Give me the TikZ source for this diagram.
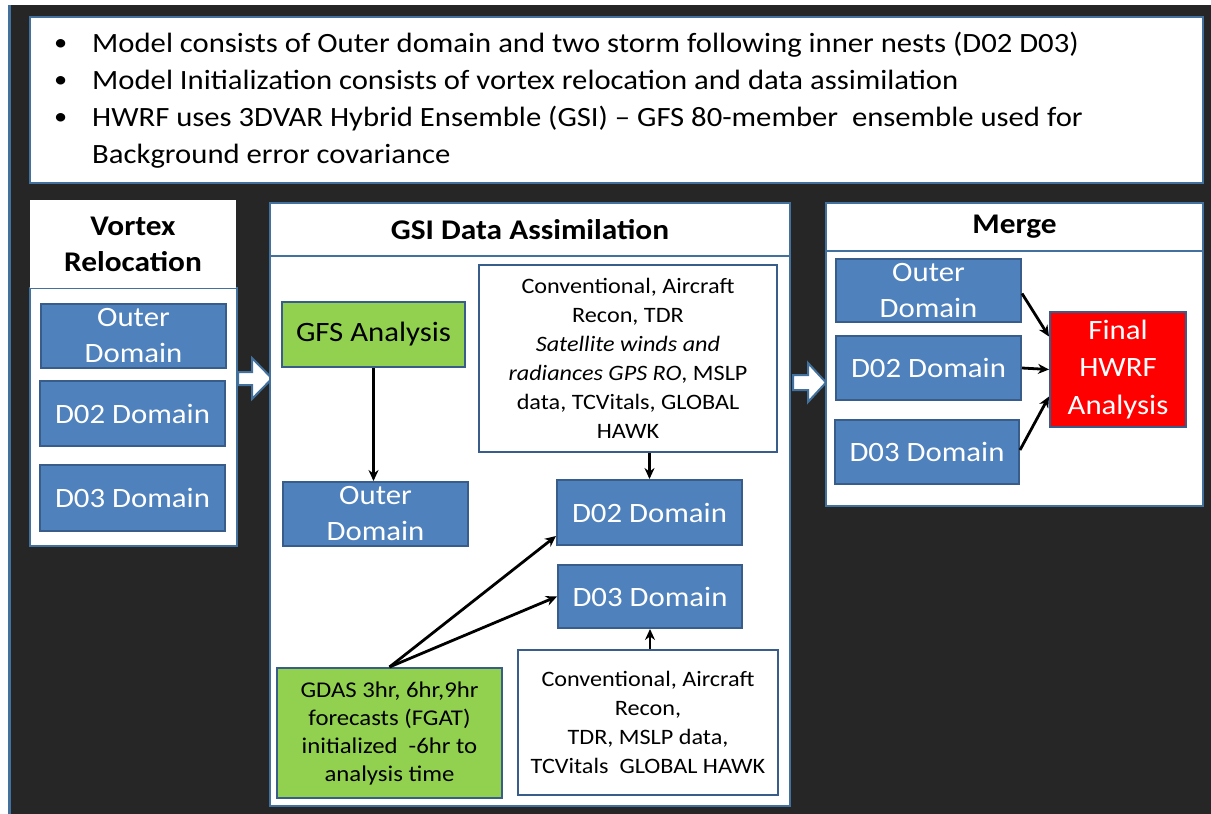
\documentclass[tikz,border=0pt]{standalone}
\usepackage{fontspec}
\setmainfont{Carlito}[FakeStretch=1.1]
\usetikzlibrary{arrows.meta}

\definecolor{bgdark}{HTML}{262626}
\definecolor{edgeblue}{HTML}{41719C}
\definecolor{boxblue}{HTML}{4F81BD}
\definecolor{boxedge}{HTML}{385D8A}
\definecolor{gfsgreen}{HTML}{92D050}

\newcommand{\hwbullet}{\raisebox{1.5pt}{\fontsize{24}{37}\selectfont\textbullet}}

\tikzset{
  panel/.style={draw=edgeblue,line width=2.5pt,fill=white,inner sep=0pt},
  paneltitle/.style={panel,align=center,font=\bfseries\fontsize{28.5}{36}\selectfont},
  dombox/.style={draw=boxedge,line width=2pt,fill=boxblue,text=white,inner sep=0pt,
    align=center,font=\fontsize{28}{36}\selectfont},
  greenbox/.style={draw=boxedge,line width=2pt,fill=gfsgreen,inner sep=0pt,align=center},
  obsbox/.style={draw=boxedge,line width=2pt,fill=white,inner sep=0pt,align=center,
    font=\fontsize{22}{29}\selectfont},
  conn/.style={-{Stealth[length=11pt,width=10pt]},line width=2.8pt,black},
  blockarrow/.style={draw=edgeblue,line width=2pt,fill=white,line join=miter}
}

\begin{document}
\begin{tikzpicture}[x=1pt,y=-1pt]
\useasboundingbox (0,0) rectangle (1211,814);
% Draw background
\fill [white] (0,0) rectangle (1211,814);
\fill [bgdark] (8,5) rectangle (1211,814);
\fill [edgeblue] (8,5) rectangle (11,814);

% Draw bullet box
\node (topbox) at (616.5,100) [panel,minimum width=1173,minimum height=166] {};
\node (bullets) at (54,26) [anchor=north west,inner sep=0pt,align=left,
  font=\fontsize{27.9}{37}\selectfont]
  {\begin{tabular}{@{}p{38pt}@{}l@{}}
   \hwbullet & Model consists of Outer domain and two storm following inner nests (D02 D03)\\
   \hwbullet & Model Initialization consists of vortex relocation and data assimilation\\
   \hwbullet & HWRF uses 3DVAR Hybrid Ensemble (GSI) -- GFS 80-member\ \ ensemble used for\\
             & Background error covariance
   \end{tabular}};

% Draw vortex relocation
\node (vrbody) at (133.5,417) [panel,minimum width=207,minimum height=258] {};
\node (vrtitle) at (133,244) [paneltitle,draw=none,minimum width=206,minimum height=88]
  {Vortex\\Relocation};
\node (vrouter) at (133.5,336) [dombox,minimum width=185,minimum height=64] {Outer\\Domain};
\node (vrd02) at (132.5,413.5) [dombox,minimum width=185,minimum height=65] {D02 Domain};
\node (vrd03) at (132.5,498) [dombox,minimum width=185,minimum height=66] {D03 Domain};

% Draw block arrow 1
\draw [blockarrow] (238,372) -- (252,372) -- (252,358) -- (272,378.5)
  -- (252,399) -- (252,385) -- (238,385) -- cycle;

% Draw GSI data assimilation
\node (gsibody) at (530,531) [panel,minimum width=520,minimum height=550] {};
\node (gsititle) at (530,229.5) [paneltitle,minimum width=520,minimum height=53]
  {GSI Data Assimilation};
\node (gfs) at (373.5,334.5) [greenbox,minimum width=183,minimum height=65,
  font=\fontsize{28}{36}\selectfont] {GFS Analysis};
\node (gsiouter) at (375.5,514) [dombox,minimum width=185,minimum height=64] {Outer\\Domain};
\node (obstop) at (628,358.5) [obsbox,minimum width=298,minimum height=187]
  {Conventional, Aircraft\\Recon, TDR\\\textit{Satellite winds and}\\
   \textit{radiances GPS RO}, MSLP\\data, TCVitals, GLOBAL\\HAWK};
\node (gsid02) at (649.5,512.5) [dombox,minimum width=185,minimum height=65] {D02 Domain};
\node (gsid03) at (650,596.5) [dombox,minimum width=184,minimum height=63] {D03 Domain};
\node (obsbot) at (648,722.5) [obsbox,minimum width=260,minimum height=145]
  {Conventional, Aircraft\\Recon,\\TDR, MSLP data,\\TCVitals\ \ GLOBAL HAWK};
\node (gdas) at (389.5,733) [greenbox,minimum width=225,minimum height=130,
  font=\fontsize{22.5}{28}\selectfont]
  {GDAS 3hr, 6hr,9hr\\forecasts (FGAT)\\initialized\ \ -6hr to\\analysis time};
%Draw GSI connectors
\draw [conn] (gfs.south) -- (gfs.south |- gsiouter.north);
\draw [conn] (gsid02.north |- obstop.south) -- (gsid02.north);
\draw [conn] (gsid03.south |- obsbot.north) -- (gsid03.south);
\draw [conn] (gdas.north) -- ([yshift=10pt]gsid02.south west);
\draw [conn] (gdas.north) -- (gsid03.west);

% Draw block arrow 2
\draw [blockarrow] (793,375) -- (808,375) -- (808,363) -- (826,382.5)
  -- (808,402) -- (808,390) -- (793,390) -- cycle;

% Draw merge
\node (mgbody) at (1014.5,378.5) [panel,minimum width=377,minimum height=255] {};
\node (mgtitle) at (1014.5,227) [paneltitle,minimum width=377,minimum height=48] {Merge};
\node (mgouter) at (928.5,290.5) [dombox,minimum width=185,minimum height=63] {Outer\\Domain};
\node (mgd02) at (928.5,368) [dombox,minimum width=185,minimum height=64] {D02 Domain};
\node (mgd03) at (927,452) [dombox,minimum width=184,minimum height=64] {D03 Domain};
\node (final) at (1118,369.5) [dombox,fill=red,minimum width=136,minimum height=115,
  font=\fontsize{28}{37.5}\selectfont] {Final\\HWRF\\Analysis};
%Draw merge connectors
\draw [conn] ([yshift=-3pt]mgouter.east) -- ([yshift=33pt]final.west);
\draw [conn] (mgd02.east) -- (final.west);
\draw [conn] ([yshift=2pt]mgd03.east) -- ([yshift=-27pt]final.west);
\end{tikzpicture}
\end{document}
